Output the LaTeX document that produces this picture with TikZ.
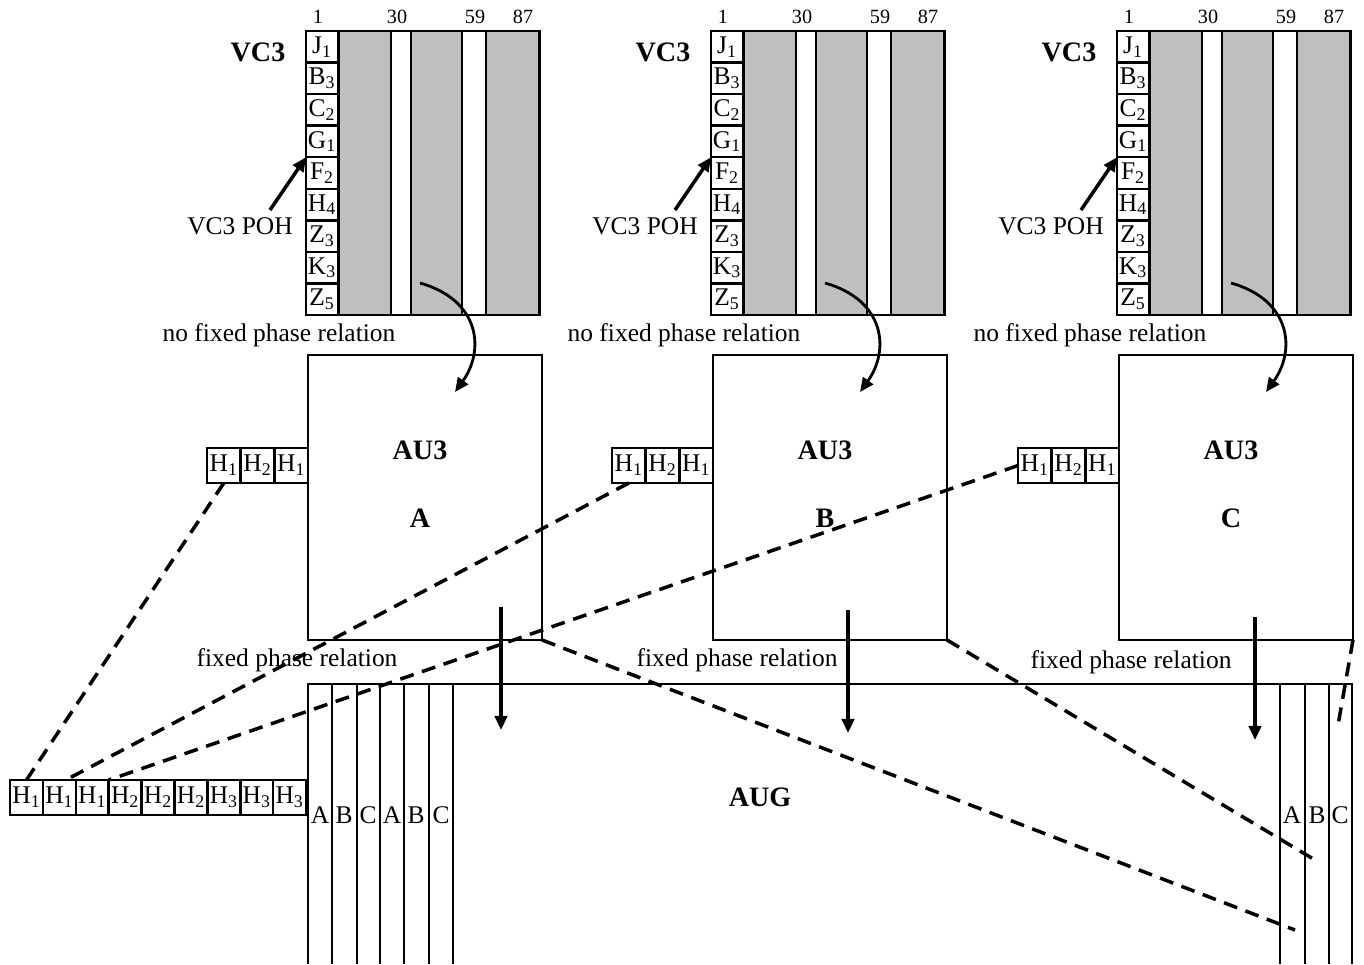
\documentclass[tikz,border=0pt]{standalone}
\usepackage{fontspec}
\setmainfont{Liberation Serif}
\usetikzlibrary{arrows.meta, positioning}

\begin{document}
\begin{tikzpicture}[x=0.02cm, y=-0.02cm,
    every node/.style={font=\fontsize{14.5}{16}\selectfont, inner sep=0pt, outer sep=0pt},
    poh/.style={draw, line width=1.4pt, minimum width=0.64cm, minimum height=0.631cm},
    payload/.style={draw, line width=1.4pt, fill=gray!50, minimum height=5.68cm},
    vcframe/.style={draw, line width=1.6pt, minimum width=4.68cm, minimum height=5.68cm},
    aubox/.style={draw, line width=1.5pt, minimum width=4.68cm, minimum height=5.7cm},
    hcell/.style={draw, line width=1.4pt, minimum width=0.67cm, minimum height=0.7cm},
    title/.style={font=\bfseries\fontsize{16}{18}\selectfont},
    colnum/.style={font=\fontsize{11.5}{13}\selectfont},
    arr/.style={-{Triangle[length=8pt, width=7pt]}, line width=2pt},
    dashline/.style={line width=2pt, dash pattern=on 8pt off 5pt},
    augline/.style={line width=1.4pt}
]
\useasboundingbox (0,0) rectangle (1364,964);

% VC3 and AU3 for A, B, C
\foreach \b/\dx in {A/0, B/405, C/811} {
  \node[vcframe] (vc\b) at (\dx+423,173) {};
  \node[payload, minimum width=1.04cm] (g1\b) at (\dx+365,173) {};
  \node[payload, minimum width=1.02cm] (g2\b) at (\dx+436.5,173) {};
  \node[payload, minimum width=1.06cm] (g3\b) at (\dx+512.5,173) {};
  \foreach \l/\s [count=\i] in {J/1,B/3,C/2,G/1,F/2,H/4,Z/3,K/3,Z/5}
    \node[poh] (p\b\i) at (\dx+322,15.22+31.56*\i) {\l\textsubscript{\s}};
  \node[colnum] (na\b) at (\dx+318,17) {1};
  \node[colnum] (nb\b) at (\dx+397,17) {30};
  \node[colnum] (nc\b) at (\dx+475,17) {59};
  \node[colnum] (nd\b) at (\dx+523,17) {87};
  \node[title] (vt\b) at (\dx+258,52) {VC3};
  \node (pl\b) at (\dx+240,226) {VC3 POH};
  \coordinate (pa\b) at (\dx+270,210);
  \draw[arr] (pa\b) -- (p\b4.south west);
  \node (nf\b) at (\dx+279,335) {no fixed phase relation};

  \node[aubox] (au\b) at (\dx+425,497.5) {};
  \node[title] (at\b) at (\dx+420,450) {AU3};
  \node[title] (an\b) at (\dx+420,518) {\b};
  \node[hcell] (h\b1) at (\dx+223.8,465.5) {H\textsubscript{1}};
  \node[hcell] (h\b2) at (\dx+257.5,465.5) {H\textsubscript{2}};
  \node[hcell] (h\b3) at (\dx+291.2,465.5) {H\textsubscript{1}};

  \coordinate (cs\b) at (\dx+420,283);
  \coordinate (ce\b) at (\dx+455,392);
  \draw[arr, line width=1.6pt] (cs\b) .. controls +(60,17) and +(30,-42) .. (ce\b);
}

\node (fpA) at (297,660) {fixed phase relation};
\node (fpB) at (737,660) {fixed phase relation};
\node (fpC) at (1131,662) {fixed phase relation};

% AUG
\draw[augline] (307,684) -- (1353,684);
\foreach \x in {308,332,357,380,404,429,453,1280,1305,1329,1352}
  \draw[augline] (\x,684) -- (\x,964);
\foreach \l/\x [count=\i] in {A/320,B/344,C/368,A/392,B/416,C/441,A/1292,B/1317,C/1340}
  \node (cl\i) at (\x,815) {\l};
\node[title] (aug) at (760,797) {AUG};
\foreach \s [count=\i] in {1,1,1,2,2,2,3,3,3}
  \node[hcell, minimum width=0.658cm] (r\i) at (-6.45+32.9*\i,797.5) {H\textsubscript{\s}};

% AU3 into AUG
\coordinate (vaA) at (501,607);  \coordinate (vbA) at (501,730);
\coordinate (vaB) at (848,610);  \coordinate (vbB) at (848,733);
\coordinate (vaC) at (1255,617); \coordinate (vbC) at (1255,740);
\draw[arr] (vaA) -- (vbA);
\draw[arr] (vaB) -- (vbB);
\draw[arr] (vaC) -- (vbC);

% pointers
\draw[dashline] (hA1.south) -- (r1.north);
\draw[dashline] (hB1.south) -- (r2.70);
\draw[dashline] (hC1.west) -- (r3.north east);
\coordinate (ea) at (1295,930);
\coordinate (eb) at (1315,860);
\coordinate (ec) at (1338,725);
\draw[dashline] (auA.south east) -- (ea);
\draw[dashline] (auB.south east) -- (eb);
\draw[dashline] (auC.south east) -- (ec);
\end{tikzpicture}
\end{document}
